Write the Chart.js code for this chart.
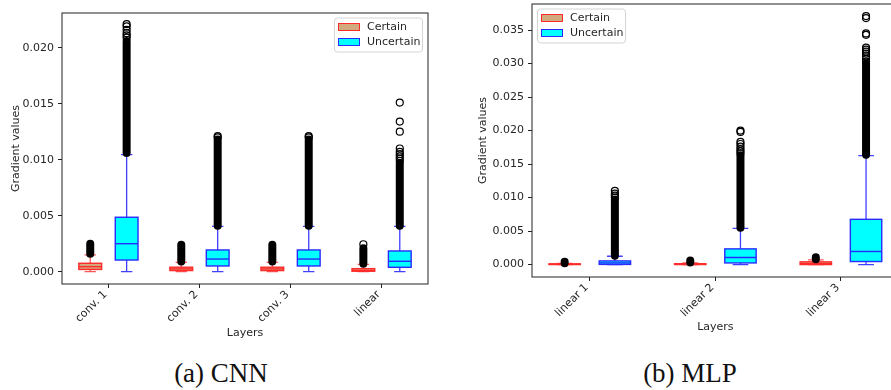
<!DOCTYPE html>
<html>
<head>
<meta charset="utf-8">
<script src="https://cdn.jsdelivr.net/npm/chart.js@4.4.0/dist/chart.umd.min.js"></script>
<style>
  body { margin: 0; background: #fff; width: 891px; height: 390px; overflow: hidden; position: relative; }
  #cnnBox { position: absolute; left: 0; top: 0; width: 445px; height: 345px; }
  #mlpBox { position: absolute; left: 445px; top: -7px; width: 460px; height: 345px; }
  .caption { position: absolute; top: 358px; line-height: 30px; font-family: "Liberation Serif", serif; font-size: 27px; color: #111; transform: translateX(-50%); white-space: nowrap; }
</style>
</head>
<body>
<div id="cnnBox"><canvas id="cnnChart" width="445" height="345"></canvas></div>
<div id="mlpBox"><canvas id="mlpChart" width="460" height="345"></canvas></div>
<div class="caption" style="left:221px">(a) CNN</div>
<div class="caption" style="left:690px">(b) MLP</div>
<script>
// ---- (a) CNN ----
const cnnLayers = ['conv. 1', 'conv. 2', 'conv. 3', 'linear'];
const cnnTicks = [0, 0.005, 0.010, 0.015, 0.020];
const cnnCertainLo = [0, 0, 0, 0];
const cnnCertainQ1 = [0.0002, 0.0001, 0.0001, 0.00004];
const cnnCertainMed = [0.00045, 0.00025, 0.00025, 0.00012];
const cnnCertainQ3 = [0.00075, 0.0004, 0.0004, 0.00027];
const cnnCertainHi = [0.0015, 0.00084, 0.00084, 0.00066];
const cnnCertainDense = [[0.0016, 0.0025], [0.0009, 0.0024], [0.0009, 0.0024], [0.0007, 0.0021]];
const cnnCertainOut = [[], [], [], [0.00245]];
const cnnUncertainLo = [0, 0, 0, 0];
const cnnUncertainQ1 = [0.00104, 0.00051, 0.00051, 0.00039];
const cnnUncertainMed = [0.0025, 0.00113, 0.00113, 0.00093];
const cnnUncertainQ3 = [0.00486, 0.00194, 0.00194, 0.00185];
const cnnUncertainHi = [0.01045, 0.00405, 0.00405, 0.00405];
const cnnUncertainDense = [[0.0106, 0.0206], [0.0041, 0.0118], [0.0041, 0.0118], [0.0041, 0.0097]];
const cnnUncertainOut = [
    [0.0209, 0.0211, 0.0213, 0.0216, 0.0219, 0.0221],
    [0.0120, 0.0121],
    [0.0120, 0.0121],
    [0.0099, 0.0101, 0.0103, 0.0105, 0.0107, 0.0110, 0.0125, 0.0134, 0.0151]
];

// ---- (b) MLP ----
const mlpLayers = ['linear 1', 'linear 2', 'linear 3'];
const mlpTicks = [0, 0.005, 0.010, 0.015, 0.020, 0.025, 0.030, 0.035];
const mlpCertainLo = [0, 0, 0];
const mlpCertainQ1 = [0, 0, 0];
const mlpCertainMed = [0.00004, 0.00005, 0.00015];
const mlpCertainQ3 = [0.0001, 0.00012, 0.0004];
const mlpCertainHi = [0.00016, 0.00026, 0.0007];
const mlpCertainDense = [[0.0002, 0.0004], [0.0003, 0.0006], [0.0008, 0.0011]];
const mlpCertainOut = [[], [], []];
const mlpUncertainLo = [0, 0, 0];
const mlpUncertainQ1 = [0.00002, 0.00024, 0.00045];
const mlpUncertainMed = [0.00024, 0.00105, 0.00195];
const mlpUncertainQ3 = [0.00054, 0.00234, 0.00675];
const mlpUncertainHi = [0.00124, 0.0054, 0.01625];
const mlpUncertainDense = [[0.0013, 0.0097], [0.0055, 0.0163], [0.0164, 0.0300]];
const mlpUncertainOut = [
    [0.0100, 0.0103, 0.0106, 0.0110],
    [0.0166, 0.0169, 0.0172, 0.0176, 0.0180, 0.0183, 0.0198, 0.0200],
    [0.0303, 0.0307, 0.0311, 0.0315, 0.0318, 0.0321, 0.0324, 0.0343, 0.0345, 0.0368, 0.0371]
];

const textColor = '#262626';
const baseFont = { family: 'DejaVu Sans', size: 11 };

const certainStyle = { label: 'Certain', fill: '#d2aa7d', edge: '#ff2a2a', whisker: 'rgba(255,30,30,0.75)', offset: -0.2 };
const uncertainStyle = { label: 'Uncertain', fill: '#00ffff', edge: '#2a2aff', whisker: 'rgba(30,30,255,0.85)', offset: 0.2 };
const boxWidth = 0.25;

// draws boxes, whiskers and the dense bands of fliers from the stats through the chart scales
const boxPlugin = {
    id: 'boxes',
    beforeDatasetsDraw(chart, args, opts) {
        const ctx = chart.ctx;
        const xs = chart.scales.x, ys = chart.scales.y;
        opts.groups.forEach(g => {
            const st = g.style;
            for (let i = 0; i < g.q1.length; i++) {
                const cx = xs.getPixelForValue(i + 1 + st.offset);
                const half = (xs.getPixelForValue(i + 1 + st.offset + boxWidth / 2) - cx);
                const capHalf = half / 2;
                const yLo = ys.getPixelForValue(g.lo[i]);
                const yQ1 = ys.getPixelForValue(g.q1[i]);
                const yMed = ys.getPixelForValue(g.med[i]);
                const yQ3 = ys.getPixelForValue(g.q3[i]);
                const yHi = ys.getPixelForValue(g.hi[i]);
                ctx.save();
                // whiskers + caps
                ctx.strokeStyle = st.whisker;
                ctx.lineWidth = 1.3;
                ctx.beginPath();
                ctx.moveTo(cx, yQ3); ctx.lineTo(cx, yHi);
                ctx.moveTo(cx, yQ1); ctx.lineTo(cx, yLo);
                ctx.moveTo(cx - capHalf, yHi); ctx.lineTo(cx + capHalf, yHi);
                ctx.moveTo(cx - capHalf, yLo); ctx.lineTo(cx + capHalf, yLo);
                ctx.stroke();
                // box
                ctx.fillStyle = st.fill;
                ctx.fillRect(cx - half, yQ3, half * 2, yQ1 - yQ3);
                ctx.strokeStyle = st.edge;
                ctx.lineWidth = 1.4;
                ctx.strokeRect(cx - half, yQ3, half * 2, yQ1 - yQ3);
                // median
                ctx.beginPath();
                ctx.moveTo(cx - half, yMed); ctx.lineTo(cx + half, yMed);
                ctx.stroke();
                // dense run of flier circles
                const d = g.dense[i];
                if (d) {
                    ctx.strokeStyle = '#000';
                    ctx.lineWidth = 8;
                    ctx.lineCap = 'round';
                    ctx.beginPath();
                    ctx.moveTo(cx, ys.getPixelForValue(d[0]));
                    ctx.lineTo(cx, ys.getPixelForValue(d[1]));
                    ctx.stroke();
                }
                ctx.restore();
            }
        });
    },
    afterDraw(chart, args, opts) {
        const ctx = chart.ctx;
        const a = chart.chartArea;
        ctx.save();
        // frame
        ctx.strokeStyle = '#222';
        ctx.lineWidth = 1;
        ctx.strokeRect(a.left, a.top, a.right - a.left, a.bottom - a.top);
        // legend
        const w = 88, h = 34;
        const lx = opts.legendSide === 'right' ? a.right - 6 - w : a.left + 5;
        const ly = a.top + 4.5;
        ctx.fillStyle = 'rgba(255,255,255,0.85)';
        ctx.strokeStyle = '#d4d4d4';
        ctx.lineWidth = 1;
        ctx.beginPath();
        ctx.roundRect(lx + 0.5, ly + 0.5, w, h, 3);
        ctx.fill();
        ctx.stroke();
        ctx.font = '11px "DejaVu Sans"';
        ctx.textBaseline = 'middle';
        opts.groups.forEach((g, k) => {
            const py = ly + 6 + k * 15;
            ctx.fillStyle = g.style.fill;
            ctx.fillRect(lx + 4.5, py, 21, 7);
            ctx.strokeStyle = g.style.edge;
            ctx.strokeRect(lx + 4.5, py, 21, 7);
            ctx.fillStyle = textColor;
            ctx.fillText(g.style.label, lx + 33, py + 4);
        });
        ctx.restore();
    }
};

function outlierPoints(values, offset) {
    const pts = [];
    values.forEach((list, i) => list.forEach(v => pts.push({ x: i + 1 + offset, y: v })));
    return pts;
}

function makeChart(id, p) {
    const groups = [
        { style: certainStyle, lo: p.cLo, q1: p.cQ1, med: p.cMed, q3: p.cQ3, hi: p.cHi, dense: p.cDense },
        { style: uncertainStyle, lo: p.uLo, q1: p.uQ1, med: p.uMed, q3: p.uQ3, hi: p.uHi, dense: p.uDense }
    ];
    const flier = {
        pointStyle: 'circle', radius: 3.5, borderWidth: 1.2,
        borderColor: '#000', backgroundColor: 'rgba(0,0,0,0)'
    };
    const grid = { drawOnChartArea: false, drawTicks: true, tickLength: 4, color: '#222' };
    return new Chart(document.getElementById(id), {
        type: 'scatter',
        data: {
            datasets: [
                Object.assign({ label: 'Certain', data: outlierPoints(p.cOut, certainStyle.offset) }, flier),
                Object.assign({ label: 'Uncertain', data: outlierPoints(p.uOut, uncertainStyle.offset) }, flier)
            ]
        },
        options: {
            responsive: false,
            animation: false,
            layout: { padding: p.padding },
            scales: {
                x: {
                    type: 'linear', min: p.xMin, max: p.xMax,
                    afterBuildTicks: s => { s.ticks = p.layers.map((_, i) => ({ value: i + 1 })); },
                    afterFit: s => { s.height = p.xHeight; },
                    ticks: {
                        autoSkip: false, minRotation: 45, maxRotation: 45, padding: 0, labelOffset: -3,
                        font: baseFont, color: textColor,
                        callback: v => p.layers[Math.round(v) - 1] || ''
                    },
                    grid: grid,
                    border: { display: false },
                    title: { display: true, text: 'Layers', font: baseFont, color: textColor, padding: { top: 0, bottom: p.xTitlePad } }
                },
                y: {
                    min: p.yMin, max: p.yMax,
                    afterBuildTicks: s => { s.ticks = p.yTicks.map(v => ({ value: v })); },
                    afterFit: s => { s.width = p.yWidth; },
                    ticks: { font: baseFont, color: textColor, padding: 4, callback: v => v.toFixed(3) },
                    grid: grid,
                    border: { display: false },
                    title: { display: true, text: 'Gradient values', font: baseFont, color: textColor, padding: { top: p.yTitlePad, bottom: 0 } }
                }
            },
            plugins: {
                legend: { display: false },
                tooltip: { enabled: false },
                boxes: { groups: groups, legendSide: p.legendSide }
            }
        },
        plugins: [boxPlugin]
    });
}

makeChart('cnnChart', {
    layers: cnnLayers, yTicks: cnnTicks,
    cLo: cnnCertainLo, cQ1: cnnCertainQ1, cMed: cnnCertainMed, cQ3: cnnCertainQ3, cHi: cnnCertainHi,
    cDense: cnnCertainDense, cOut: cnnCertainOut,
    uLo: cnnUncertainLo, uQ1: cnnUncertainQ1, uMed: cnnUncertainMed, uQ3: cnnUncertainQ3, uHi: cnnUncertainHi,
    uDense: cnnUncertainDense, uOut: cnnUncertainOut,
    xMin: 0.49, xMax: 4.51, yMin: -0.0011, yMax: 0.0231,
    padding: { top: 13, right: 17, left: 0, bottom: 0 },
    xHeight: 61, yWidth: 62, xTitlePad: 5.4, yTitlePad: 9.4,
    legendSide: 'right'
});

makeChart('mlpChart', {
    layers: mlpLayers, yTicks: mlpTicks,
    cLo: mlpCertainLo, cQ1: mlpCertainQ1, cMed: mlpCertainMed, cQ3: mlpCertainQ3, cHi: mlpCertainHi,
    cDense: mlpCertainDense, cOut: mlpCertainOut,
    uLo: mlpUncertainLo, uQ1: mlpUncertainQ1, uMed: mlpUncertainMed, uQ3: mlpUncertainQ3, uHi: mlpUncertainHi,
    uDense: mlpUncertainDense, uOut: mlpUncertainOut,
    xMin: 0.54, xMax: 3.46, yMin: -0.00186, yMax: 0.0389,
    padding: { top: 11, right: 6.3, left: 0, bottom: 0 },
    xHeight: 61, yWidth: 87, xTitlePad: 4.4, yTitlePad: 31.4,
    legendSide: 'left'
});
</script>
</body>
</html>
